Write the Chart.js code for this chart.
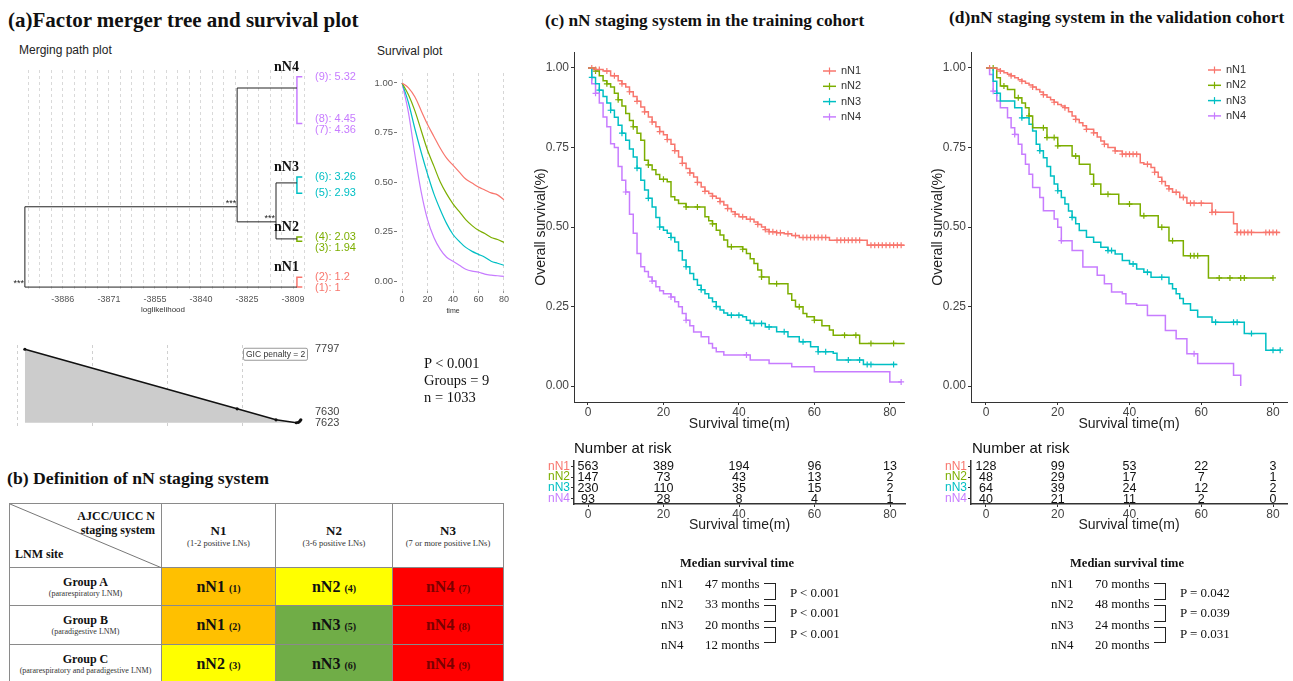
<!DOCTYPE html>
<html>
<head>
<meta charset="utf-8">
<script src="https://cdn.jsdelivr.net/npm/chart.js@4.4.1/dist/chart.umd.min.js"></script>
<style>
  body { margin: 0; width: 1293px; height: 681px; overflow: hidden; position: relative; background: #fff;
         font-family: "Liberation Sans", Arial, sans-serif; color: #111; }
  .box { position: absolute; }
  .t { position: absolute; white-space: nowrap; line-height: 1; transform: translateY(-50%); }
  .tc { position: absolute; white-space: nowrap; line-height: 1; transform: translate(-50%, -50%); }
  .serif { font-family: "Liberation Serif", "Times New Roman", serif; }
  .ttl { font-family: "Liberation Serif", "Times New Roman", serif; font-weight: bold; }
  .brk { position: absolute; border: 1px solid #222; border-left: none; }
  table.def { position: absolute; left: 9px; top: 503px; border-collapse: collapse; table-layout: fixed;
              font-family: "Liberation Serif", "Times New Roman", serif; }
  table.def td { border: 1px solid #8a8a8a; padding: 0; text-align: center; vertical-align: middle; }
</style>
</head>
<body>

<div class="t ttl" style="left:8px;top:20px;font-size:21px">(a)Factor merger tree and survival plot</div>
<div class="t" style="left:19px;top:50px;font-size:12px;color:#222">Merging path plot</div>
<div class="t" style="left:377px;top:51px;font-size:12px;color:#222">Survival plot</div>

<div class="box" style="left:0;top:60px;width:360px;height:255px"><canvas id="tree"></canvas></div>
<div class="box" style="left:360px;top:60px;width:160px;height:255px"><canvas id="surv"></canvas></div>
<div class="box" style="left:0;top:335px;width:360px;height:100px"><canvas id="gic"></canvas></div>
<div class="t" style="left:243px;top:354px;font-size:8.5px;color:#333;border:1px solid #999;border-radius:2px;padding:1px 2px">GIC penalty = 2</div>

<div class="t serif" style="left:424px;top:363px;font-size:14.5px">P &lt; 0.001</div>
<div class="t serif" style="left:424px;top:380px;font-size:14.5px">Groups = 9</div>
<div class="t serif" style="left:424px;top:397px;font-size:14.5px">n = 1033</div>

<div class="t ttl" style="left:7px;top:479px;font-size:17.7px">(b) Definition of nN staging system</div>
<div id="defTable"></div>

<div class="t ttl" style="left:545px;top:21px;font-size:17.3px">(c) nN staging system in the training cohort</div>
<div class="box" style="left:520px;top:40px;width:390px;height:400px"><canvas id="kmTrain"></canvas></div>
<div class="t" style="left:574px;top:447px;font-size:15px">Number at risk</div>
<div class="box" style="left:520px;top:440px;width:390px;height:100px"><canvas id="riskTrain"></canvas></div>
<div id="medTrain"></div>

<div class="t ttl" style="left:949px;top:18px;font-size:17.5px">(d)nN staging system in the validation cohort</div>
<div class="box" style="left:910px;top:40px;width:383px;height:400px"><canvas id="kmValid"></canvas></div>
<div class="t" style="left:972px;top:447px;font-size:15px">Number at risk</div>
<div class="box" style="left:910px;top:440px;width:383px;height:100px"><canvas id="riskValid"></canvas></div>
<div id="medValid"></div>

<script>
// ---- data ----
const groups = ['nN1', 'nN2', 'nN3', 'nN4'];
const groupColors = ['#F8766D', '#7CAE00', '#00BFC4', '#C77CFF'];

// merging tree (x = loglikelihood, y = coefficient)
const leafIds = [[1, 2], [3, 4], [5, 6], [7, 8, 9]];
const leafCoef = [[1, 1.2], [1.94, 2.03], [2.93, 3.26], [4.36, 4.45, 5.32]];
const branchCoef = [1.0, 1.99, 3.14, 5.09];
const mergeLoglik = [-3898.7, -3827.7, -3814.7];   // root, nN4 | (nN2+nN3), nN2 | nN3
const mergeCoef = [1.0, 2.65, 2.34];
const leafLoglik = -3807.7;
const loglikTicks = [-3886, -3871, -3855, -3840, -3825, -3809];

// GIC path
const gicLoglik = [-3898.7, -3827.7, -3814.7, -3807.9, -3807.2, -3806.7, -3806.4];
const gicValue = [7797, 7656, 7630, 7623, 7624, 7627, 7630];
const gicLabels = [7797, 7630, 7623];
const gicGrid = [-3901, -3876, -3851, -3826];

// survival plot in (a)
const survTime = [0, 5, 10, 15, 20, 25, 30, 35, 40, 45, 50, 55, 60, 65, 70, 75, 80];
const survN1 = [1, 0.975, 0.93, 0.86, 0.79, 0.73, 0.67, 0.62, 0.585, 0.55, 0.515, 0.495, 0.475, 0.46, 0.445, 0.435, 0.41];
const survN2 = [1, 0.94, 0.86, 0.76, 0.66, 0.58, 0.5, 0.44, 0.39, 0.35, 0.31, 0.28, 0.256, 0.24, 0.22, 0.21, 0.195];
const survN3 = [1, 0.9, 0.77, 0.65, 0.54, 0.44, 0.36, 0.29, 0.235, 0.2, 0.17, 0.15, 0.135, 0.12, 0.1, 0.09, 0.08];
const survN4 = [1, 0.85, 0.64, 0.45, 0.31, 0.22, 0.16, 0.12, 0.1, 0.08, 0.06, 0.05, 0.045, 0.035, 0.03, 0.027, 0.024];

// Kaplan-Meier, training cohort: [time, survival]
const trainN1 = [[0,1],[2,0.995],[4,0.99],[6,0.975],[8,0.96],[9,0.95],[10,0.94],[11,0.925],[12,0.91],[13,0.895],[14,0.877],[15,0.862],[16,0.846],[17,0.83],[18,0.815],[19,0.8],[20,0.79],[21,0.775],[22,0.76],[23,0.74],[24,0.72],[25,0.7],[26,0.684],[27,0.67],[28,0.657],[29,0.64],[30,0.626],[31,0.612],[32,0.605],[33,0.597],[34,0.59],[35,0.58],[36,0.569],[37,0.558],[38,0.548],[39,0.54],[40,0.532],[42,0.524],[44,0.516],[45,0.508],[46,0.5],[47,0.492],[48,0.485],[50,0.482],[52,0.479],[54,0.473],[56,0.467],[64,0.458],[74,0.443],[84,0.443]];
const trainN2 = [[0,1],[2,0.99],[3,0.975],[4,0.96],[5,0.95],[6,0.94],[7,0.92],[8,0.9],[9,0.88],[10,0.857],[11,0.835],[12,0.815],[13,0.795],[14,0.773],[15,0.71],[16,0.695],[17,0.68],[18,0.665],[19,0.65],[21,0.642],[22,0.595],[23,0.585],[24,0.574],[26,0.563],[31,0.532],[32,0.52],[33,0.51],[34,0.49],[35,0.475],[36,0.459],[37,0.438],[41,0.43],[42,0.417],[43,0.4],[44,0.385],[45,0.365],[46,0.343],[48,0.322],[53,0.29],[54,0.27],[55,0.249],[57,0.228],[58,0.218],[60,0.207],[62,0.19],[64,0.176],[65,0.16],[72,0.134],[84,0.134]];
const trainN3 = [[0,1],[1,0.97],[2,0.95],[3,0.93],[4,0.91],[5,0.89],[6,0.867],[7,0.845],[8,0.82],[9,0.795],[10,0.773],[11,0.745],[12,0.72],[13,0.685],[14,0.647],[15,0.616],[16,0.59],[17,0.563],[18,0.53],[19,0.5],[20,0.49],[21,0.48],[22,0.467],[23,0.453],[24,0.425],[25,0.396],[26,0.375],[27,0.354],[28,0.335],[29,0.317],[30,0.303],[31,0.29],[32,0.277],[33,0.265],[34,0.25],[35,0.239],[36,0.23],[37,0.223],[41,0.218],[42,0.207],[43,0.197],[47,0.186],[50,0.171],[53,0.155],[56,0.139],[59,0.124],[61,0.108],[65,0.103],[66,0.082],[73,0.068],[82,0.068]];
const trainN4 = [[0,1],[1,0.95],[2,0.92],[3,0.89],[4,0.846],[5,0.815],[6,0.762],[7,0.75],[8,0.69],[9,0.647],[10,0.61],[11,0.54],[12,0.48],[13,0.417],[14,0.375],[15,0.36],[16,0.343],[17,0.33],[18,0.312],[19,0.3],[20,0.29],[22,0.28],[23,0.265],[24,0.249],[25,0.228],[26,0.207],[27,0.19],[28,0.17],[30,0.155],[32,0.134],[33,0.12],[34,0.108],[36,0.098],[43,0.082],[48,0.071],[54,0.061],[60,0.045],[80,0.013],[83,0.013]];
const trainCensor = [
  [1,2,3,5,7,9,11,13,15,17,19,21,23,25,27,29,31,33,35,37,39,41,43,45,47,48,49,50,51,53,55,57,58,59,60,61,62,63,66,67,68,69,70,71,72,75,76,77,78,79,80,81,82,83],
  [2,5,8,12,16,20,26,29,33,38,41,46,50,56,60,68,71,75,81],
  [1,3,6,9,13,16,19,22,26,30,34,38,40,44,46,48,52,57,61,63,69,72,74,75,81],
  [2,10,17,22,26,42,83]
];

// Kaplan-Meier, validation cohort
const validN1 = [[0,1],[3,0.995],[4,0.99],[5,0.985],[6,0.98],[7,0.975],[8,0.969],[9,0.963],[10,0.958],[11,0.952],[12,0.946],[13,0.94],[14,0.932],[15,0.924],[16,0.916],[17,0.908],[18,0.9],[19,0.892],[20,0.885],[21,0.88],[22,0.875],[23,0.862],[24,0.849],[25,0.838],[26,0.828],[27,0.818],[28,0.807],[30,0.796],[31,0.783],[32,0.77],[33,0.76],[34,0.75],[36,0.739],[38,0.729],[43,0.702],[44,0.697],[46,0.687],[47,0.672],[48,0.656],[49,0.643],[50,0.63],[51,0.62],[52,0.609],[54,0.593],[56,0.575],[63,0.546],[69,0.51],[70,0.483],[82,0.483]];
const validN2 = [[0,1],[3,0.969],[4,0.943],[6,0.932],[8,0.906],[10,0.89],[11,0.875],[12,0.849],[13,0.812],[17,0.781],[20,0.755],[24,0.723],[26,0.697],[29,0.666],[30,0.635],[32,0.603],[37,0.572],[43,0.535],[48,0.499],[51,0.457],[55,0.41],[62,0.34],[80,0.34]];
const validN3 = [[0,1],[2,0.958],[3,0.92],[4,0.896],[8,0.875],[10,0.843],[12,0.823],[13,0.802],[14,0.76],[15,0.74],[16,0.718],[17,0.69],[18,0.66],[19,0.635],[20,0.614],[21,0.593],[22,0.572],[23,0.55],[24,0.53],[25,0.51],[26,0.489],[28,0.468],[30,0.452],[32,0.436],[34,0.426],[36,0.415],[38,0.395],[40,0.384],[42,0.368],[44,0.358],[46,0.342],[51,0.322],[52,0.306],[53,0.29],[54,0.275],[55,0.259],[57,0.238],[59,0.217],[63,0.201],[72,0.165],[78,0.113],[82,0.113]];
const validN4 = [[0,1],[1,0.979],[2,0.927],[3,0.896],[4,0.875],[6,0.843],[7,0.812],[8,0.791],[9,0.76],[10,0.729],[11,0.697],[12,0.666],[13,0.624],[15,0.593],[16,0.551],[19,0.525],[20,0.499],[21,0.457],[24,0.426],[27,0.374],[31,0.348],[33,0.322],[35,0.296],[38,0.29],[39,0.259],[42,0.254],[45,0.222],[50,0.175],[53,0.149],[56,0.102],[59,0.071],[69,0.034],[71,0]];
const validCensor = [
  [1,4,7,10,13,16,19,22,25,28,30,33,36,38,39,40,41,42,45,47,49,51,53,55,57,58,60,63,64,70,71,72,73,74,78,79,80,81],
  [2,5,9,12,16,17,19,20,25,30,34,40,44,49,52,57,58,59,65,68,71,72,80],
  [3,10,15,20,24,34,35,41,45,49,64,69,70,74,80,82],
  [2,8,21,58]
];

const kmTicksX = [0, 20, 40, 60, 80];
const kmTicksY = [0, 0.25, 0.5, 0.75, 1];
const riskTimes = [0, 20, 40, 60, 80];
const trainRisk = [[563, 389, 194, 96, 13], [147, 73, 43, 13, 2], [230, 110, 35, 15, 2], [93, 28, 8, 4, 1]];
const validRisk = [[128, 99, 53, 22, 3], [48, 29, 17, 7, 1], [64, 39, 24, 12, 2], [40, 21, 11, 2, 0]];

const trainMedian = [47, 33, 20, 12];
const trainP = ['P < 0.001', 'P < 0.001', 'P < 0.001'];
const validMedian = [70, 48, 24, 20];
const validP = ['P = 0.042', 'P = 0.039', 'P = 0.031'];

// table (b)
const stageCols = [['N1', '(1-2 positive LNs)'], ['N2', '(3-6 positive LNs)'], ['N3', '(7 or more positive LNs)']];
const siteRows = [['Group A', '(pararespiratory LNM)'], ['Group B', '(paradigestive LNM)'], ['Group C', '(pararespiratory and paradigestive LNM)']];
const stageCells = [
  [['nN1', 1], ['nN2', 4], ['nN4', 7]],
  [['nN1', 2], ['nN3', 5], ['nN4', 8]],
  [['nN2', 3], ['nN3', 6], ['nN4', 9]]
];
const stageFill = { nN1: '#FFC000', nN2: '#FFFF00', nN3: '#70AD47', nN4: '#FF0000' };

// ---- setup ----
Chart.defaults.font.family = '"Liberation Sans", Arial, sans-serif';
Chart.defaults.animation = false;
Chart.defaults.plugins.legend.display = false;
Chart.defaults.plugins.tooltip.enabled = false;
Chart.defaults.maintainAspectRatio = false;
Chart.defaults.devicePixelRatio = 1;

const fixW = w => s => { s.width = w; };
const fixH = h => s => { s.height = h; };
const setTicks = vals => s => { s.ticks = vals.map(v => ({ value: v })); };

// spread labels so they do not overlap (dir 1 pushes down, -1 pushes up)
function spread(ys, gap, dir) {
  const idx = ys.map((y, i) => i).sort((a, b) => dir * (ys[a] - ys[b]));
  const out = ys.slice();
  for (let k = 1; k < idx.length; k++) {
    const p = out[idx[k - 1]], i = idx[k];
    if (dir * (out[i] - p) < gap) out[i] = p + dir * gap;
  }
  return out;
}

// ---- (a) merging tree ----
const [xRoot, xB, xA] = mergeLoglik;
const treeSegs = [
  [[xRoot, branchCoef[0]], [leafLoglik, branchCoef[0]]],
  [[xA, branchCoef[1]], [leafLoglik, branchCoef[1]]],
  [[xA, branchCoef[2]], [leafLoglik, branchCoef[2]]],
  [[xB, branchCoef[3]], [leafLoglik, branchCoef[3]]],
  [[xA, branchCoef[1]], [xA, branchCoef[2]]],
  [[xB, mergeCoef[2]], [xA, mergeCoef[2]]],
  [[xB, mergeCoef[2]], [xB, branchCoef[3]]],
  [[xRoot, mergeCoef[1]], [xB, mergeCoef[1]]],
  [[xRoot, branchCoef[0]], [xRoot, mergeCoef[1]]]
];
const treeData = treeSegs.map(s => ({
  data: s.map(([x, y]) => ({ x, y })), showLine: true, borderColor: '#222', borderWidth: 1, pointRadius: 0
}));
leafCoef.forEach((ys, i) => {
  const lo = Math.min(...ys), hi = Math.max(...ys);
  treeData.push({
    data: [{ x: leafLoglik + 1.8, y: lo }, { x: leafLoglik, y: lo }, { x: leafLoglik, y: hi }, { x: leafLoglik + 1.8, y: hi }],
    showLine: true, borderColor: groupColors[i], borderWidth: 1.5, pointRadius: 0
  });
});

const treeText = {
  id: 'treeText',
  afterDatasetsDraw(chart) {
    const { ctx, scales: { x, y }, chartArea } = chart;
    ctx.save();
    // leaf labels
    const flat = [];
    leafCoef.forEach((ys, g) => ys.forEach((v, k) => flat.push({ g, id: leafIds[g][k], v })));
    const py = spread(flat.map(f => y.getPixelForValue(f.v)), 11, 1);
    ctx.font = '11px "Liberation Sans"';
    ctx.textBaseline = 'middle';
    flat.forEach((f, i) => {
      ctx.fillStyle = groupColors[f.g];
      ctx.fillText('(' + f.id + '): ' + f.v, chartArea.right + 10, py[i]);
    });
    // group names
    ctx.font = 'bold 14px "Liberation Serif"';
    ctx.fillStyle = '#111';
    ctx.textAlign = 'right';
    ctx.textBaseline = 'alphabetic';
    groups.forEach((g, i) => {
      ctx.fillText(g, x.getPixelForValue(leafLoglik) + 2, y.getPixelForValue(Math.max(...leafCoef[i])) - 6);
    });
    // significance stars
    ctx.font = '9px "Liberation Sans"';
    ctx.fillStyle = '#222';
    mergeLoglik.forEach((lx, i) => {
      ctx.fillText('***', x.getPixelForValue(lx) - 1, y.getPixelForValue(mergeCoef[i]) - 1);
    });
    ctx.restore();
  }
};

const treeStep = (loglikTicks[loglikTicks.length - 1] - loglikTicks[0]) / 20;
new Chart(document.getElementById('tree'), {
  type: 'scatter',
  data: { datasets: treeData },
  options: {
    layout: { padding: { left: 21, right: 55, top: 10, bottom: 0 } },
    scales: {
      x: {
        type: 'linear', min: -3900, max: -3805,
        afterBuildTicks: s => {
          const vals = [];
          for (let v = loglikTicks[0] - 3 * treeStep; v <= s.max; v += treeStep) vals.push(v);
          s.ticks = vals.map(v => ({ value: v }));
        },
        afterFit: fixH(25),
        grid: { color: '#d9d9d9', drawTicks: false },
        border: { display: false, dash: [3, 3] },
        ticks: {
          autoSkip: false, maxRotation: 0, padding: 4, color: '#555', font: { size: 9 },
          callback: v => {
            const m = loglikTicks.find(t => Math.abs(t - v) < treeStep / 2);
            return m === undefined ? '' : String(m);
          }
        },
        title: { display: true, text: 'loglikelihood', color: '#333', font: { size: 8 }, padding: 0 }
      },
      y: { type: 'linear', min: 0.94, max: 5.46, display: false }
    }
  },
  plugins: [treeText]
});

// ---- (a) survival plot ----
const survSeries = [survN1, survN2, survN3, survN4];
new Chart(document.getElementById('surv'), {
  type: 'line',
  data: {
    datasets: survSeries.map((s, i) => ({
      data: survTime.map((t, k) => ({ x: t, y: s[k] })),
      borderColor: groupColors[i], borderWidth: 1.2, pointRadius: 0, tension: 0.35
    }))
  },
  options: {
    layout: { padding: { left: 0, right: 11, top: 13, bottom: 0 } },
    scales: {
      x: {
        type: 'linear', min: -4, max: 84, afterBuildTicks: setTicks(kmTicksX), afterFit: fixH(24),
        grid: { color: '#d6d6d6', tickColor: '#999', tickLength: 2 },
        border: { display: false, dash: [3, 3] },
        ticks: { color: '#555', font: { size: 9 }, padding: 1, maxRotation: 0 },
        title: { display: true, text: 'time', color: '#333', font: { size: 7 }, padding: 0 }
      },
      y: {
        min: -0.05, max: 1.05, afterBuildTicks: setTicks(kmTicksY), afterFit: fixW(37),
        grid: { drawOnChartArea: false, tickColor: '#777', tickLength: 3 },
        border: { display: false },
        ticks: { color: '#555', font: { size: 9.5 }, padding: 1, callback: v => v.toFixed(2) }
      }
    }
  }
});

// ---- (a) GIC path ----
const gicText = {
  id: 'gicText',
  afterDatasetsDraw(chart) {
    const { ctx, scales: { y }, chartArea } = chart;
    const py = spread(gicLabels.map(v => y.getPixelForValue(v)), 11, -1);
    ctx.save();
    ctx.font = '11px "Liberation Sans"';
    ctx.fillStyle = '#444';
    ctx.textBaseline = 'middle';
    gicLabels.forEach((v, i) => ctx.fillText(String(v), chartArea.right + 10, py[i]));
    ctx.restore();
  }
};
new Chart(document.getElementById('gic'), {
  type: 'scatter',
  data: {
    datasets: [{
      data: gicLoglik.map((x, i) => ({ x, y: gicValue[i] })),
      showLine: true, borderColor: '#111', borderWidth: 1.6,
      pointRadius: 1.6, pointBackgroundColor: '#111', pointBorderWidth: 0,
      fill: { value: Math.min(...gicValue) }, backgroundColor: '#cccccc'
    }]
  },
  options: {
    layout: { padding: { left: 15, right: 55, top: 10, bottom: 0 } },
    scales: {
      x: {
        type: 'linear', min: -3902, max: -3805, afterBuildTicks: setTicks(gicGrid), afterFit: fixH(8),
        grid: { color: '#d0d0d0', drawTicks: false }, border: { display: false, dash: [3, 3] },
        ticks: { display: false }
      },
      y: { min: 7613, max: 7807, display: false }
    }
  },
  plugins: [gicText]
});

// ---- Kaplan-Meier panels ----
function survAt(curve, t) {
  let s = 1;
  for (const [ti, si] of curve) { if (ti <= t) s = si; else break; }
  return s;
}

const kmLegend = {
  id: 'kmLegend',
  afterDatasetsDraw(chart, args, opts) {
    const { ctx } = chart;
    const [lx, ly] = opts.at;
    ctx.save();
    ctx.font = '11px "Liberation Sans"';
    ctx.textBaseline = 'middle';
    groups.forEach((g, i) => {
      const yy = ly + i * 15.3;
      ctx.strokeStyle = groupColors[i];
      ctx.lineWidth = 1.5;
      ctx.beginPath(); ctx.moveTo(lx, yy); ctx.lineTo(lx + 13, yy); ctx.stroke();
      ctx.lineWidth = 1.2;
      ctx.beginPath(); ctx.moveTo(lx + 6.5, yy - 3.5); ctx.lineTo(lx + 6.5, yy + 3.5); ctx.stroke();
      ctx.fillStyle = '#333';
      ctx.fillText(g, lx + 18, yy);
    });
    ctx.restore();
  }
};

function kmChart(id, curves, censor, xMin, xMax, yLeft, axisW, padRight, legendAt) {
  const datasets = [];
  curves.forEach((c, i) => {
    datasets.push({
      data: c.map(([x, y]) => ({ x, y })), stepped: 'before',
      borderColor: groupColors[i], borderWidth: 1.5, pointRadius: 0
    });
  });
  curves.forEach((c, i) => {
    datasets.push({
      data: censor[i].map(t => ({ x: t, y: survAt(c, t) })), showLine: false,
      pointStyle: 'cross', pointRadius: 3, borderColor: groupColors[i], borderWidth: 1.2
    });
  });
  return new Chart(document.getElementById(id), {
    type: 'line',
    data: { datasets },
    options: {
      layout: { padding: { left: yLeft, right: padRight, top: 12, bottom: 3 } },
      plugins: { kmLegend: { at: legendAt } },
      scales: {
        x: {
          type: 'linear', min: xMin, max: xMax, afterBuildTicks: setTicks(kmTicksX), afterFit: fixH(35),
          grid: { drawOnChartArea: false, color: '#333', tickLength: 3 },
          border: { color: '#333', width: 1 },
          ticks: { color: '#444', font: { size: 12 }, padding: 0, maxRotation: 0 },
          title: { display: true, text: 'Survival time(m)', color: '#222', font: { size: 14 } }
        },
        y: {
          min: -0.05, max: 1.05, afterBuildTicks: setTicks(kmTicksY), afterFit: fixW(axisW),
          grid: { drawOnChartArea: false, color: '#333', tickLength: 3 },
          border: { color: '#333', width: 1 },
          ticks: { color: '#444', font: { size: 12 }, padding: 2, callback: v => v.toFixed(2) },
          title: { display: true, text: 'Overall survival(%)', color: '#222', font: { size: 14 } }
        }
      }
    },
    plugins: [kmLegend]
  });
}

const riskText = {
  id: 'riskText',
  afterDatasetsDraw(chart) {
    const { ctx } = chart;
    ctx.save();
    ctx.font = '12.5px "Liberation Sans"';
    ctx.fillStyle = '#111';
    ctx.textAlign = 'center';
    ctx.textBaseline = 'middle';
    chart.data.datasets.forEach((ds, i) => {
      chart.getDatasetMeta(i).data.forEach((pt, j) => ctx.fillText(String(ds.data[j].n), pt.x, pt.y + 0.5));
    });
    ctx.restore();
  }
};

function riskChart(id, counts, xMin, xMax, axisW, padRight) {
  return new Chart(document.getElementById(id), {
    type: 'line',
    data: {
      datasets: counts.map((row, i) => ({
        data: row.map((n, k) => ({ x: riskTimes[k], y: groups[i], n })), showLine: false, pointRadius: 0
      }))
    },
    options: {
      layout: { padding: { left: 0, right: padRight, top: 21, bottom: 2 } },
      scales: {
        x: {
          type: 'linear', min: xMin, max: xMax, afterBuildTicks: setTicks(kmTicksX), afterFit: fixH(34),
          grid: { drawOnChartArea: false, color: '#333', tickLength: 3 },
          border: { color: '#333', width: 1.5 },
          ticks: { color: '#444', font: { size: 12 }, padding: 0, maxRotation: 0 },
          title: { display: true, text: 'Survival time(m)', color: '#222', font: { size: 14 } }
        },
        y: {
          type: 'category', labels: groups, offset: true, afterFit: fixW(axisW),
          grid: { drawOnChartArea: false, color: '#333', tickLength: 3 },
          border: { color: '#333', width: 1.5 },
          ticks: { autoSkip: false, color: ctx => groupColors[ctx.index], font: { size: 12 }, padding: 1 }
        }
      }
    },
    plugins: [riskText]
  });
}

function kmPanel(kmId, riskId, curves, censor, counts, xMin, xMax, yLeft, axisW, padRight, legendAt) {
  kmChart(kmId, curves, censor, xMin, xMax, yLeft, axisW, padRight, legendAt);
  riskChart(riskId, counts, xMin, xMax, yLeft + axisW, padRight);
}

kmPanel('kmTrain', 'riskTrain', [trainN1, trainN2, trainN3, trainN4], trainCensor, trainRisk,
        -3.71, 83.97, 9, 45, 5, [303, 31]);
kmPanel('kmValid', 'riskValid', [validN1, validN2, validN3, validN4], validCensor, validRisk,
        -4.18, 83.9, 16, 45, 6, [298, 30]);

// ---- median survival blocks ----
function medianBlock(el, medians, pvals, dx) {
  const rowY = [583, 603, 624, 644];
  let h = '<div class="tc serif" style="left:' + (737 + dx) + 'px;top:563px;font-size:12.5px;font-weight:bold">Median survival time</div>';
  medians.forEach((m, i) => {
    h += '<div class="t serif" style="left:' + (661 + dx) + 'px;top:' + rowY[i] + 'px;font-size:13px">' + groups[i] + '</div>';
    h += '<div class="t serif" style="left:' + (705 + dx) + 'px;top:' + rowY[i] + 'px;font-size:13px">' + m + ' months</div>';
  });
  const bTop = [583, 605, 627], bBot = [600, 622, 643], pY = [592, 612, 633];
  pvals.forEach((p, i) => {
    h += '<div class="brk" style="left:' + (764 + dx) + 'px;top:' + bTop[i] + 'px;width:11px;height:' + (bBot[i] - bTop[i] - 2) + 'px"></div>';
    h += '<div class="t serif" style="left:' + (790 + dx) + 'px;top:' + pY[i] + 'px;font-size:13px">' + p + '</div>';
  });
  document.getElementById(el).innerHTML = h;
}
medianBlock('medTrain', trainMedian, trainP, 0);
medianBlock('medValid', validMedian, validP, 390);

// ---- table (b) ----
(function () {
  const colW = [152, 114, 117, 111];
  const rowH = [64, 38, 39, 39];
  let h = '<table class="def"><colgroup>' + colW.map(w => '<col style="width:' + w + 'px">').join('') + '</colgroup>';
  h += '<tr style="height:' + rowH[0] + 'px"><td style="position:relative;text-align:left">' +
    '<svg width="152" height="64" style="position:absolute;left:0;top:0"><line x1="0" y1="0" x2="152" y2="64" stroke="#777" stroke-width="1"/></svg>' +
    '<div style="position:absolute;right:6px;top:5px;text-align:right;font-weight:bold;font-size:12px;line-height:14px">AJCC/UICC N<br>staging system</div>' +
    '<div style="position:absolute;left:5px;bottom:5px;font-weight:bold;font-size:12px">LNM site</div></td>';
  stageCols.forEach(([n, sub]) => {
    h += '<td><div style="font-weight:bold;font-size:13px;line-height:15px">' + n + '</div><div style="font-size:8.5px;color:#333">' + sub + '</div></td>';
  });
  h += '</tr>';
  siteRows.forEach(([g, sub], r) => {
    h += '<tr style="height:' + rowH[r + 1] + 'px"><td><div style="font-weight:bold;font-size:12px;line-height:13px">' + g +
      '</div><div style="font-size:8px;color:#333">' + sub + '</div></td>';
    stageCells[r].forEach(([s, k]) => {
      const col = s === 'nN4' ? '#7a0000' : '#111';
      h += '<td style="background:' + stageFill[s] + ';color:' + col + ';font-weight:bold"><span style="font-size:16px">' + s +
        '</span> <span style="font-size:10px">(' + k + ')</span></td>';
    });
    h += '</tr>';
  });
  h += '</table>';
  document.getElementById('defTable').innerHTML = h;
})();
</script>
</body>
</html>
